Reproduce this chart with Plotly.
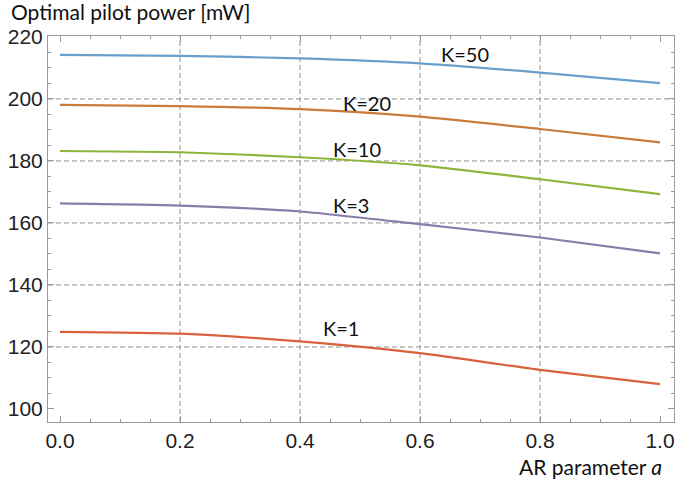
import plotly.graph_objects as go

# Data
a_vals = [0.0, 0.2, 0.4, 0.6, 0.8, 1.0]
k50 = [214.2, 213.9, 213.1, 211.5, 208.5, 205.1]
k20 = [198.1, 197.7, 196.7, 194.3, 190.3, 186.0]
k10 = [183.2, 182.8, 181.2, 178.6, 174.1, 169.3]
k3 = [166.3, 165.6, 163.7, 159.6, 155.3, 150.2]
k1 = [124.9, 124.3, 121.8, 118.0, 112.6, 108.0]

series_names = ["K=50", "K=20", "K=10", "K=3", "K=1"]
series_vals = [k50, k20, k10, k3, k1]
colors = ["#6A9FCC", "#C97B3B", "#8DB53C", "#8B7BA8", "#D8623E"]

# label anchor positions (data coords)
label_x = [0.675, 0.512, 0.495, 0.485, 0.468]
label_y = [214.4, 198.6, 184.0, 165.9, 126.2]

x_ticks = [0.0, 0.2, 0.4, 0.6, 0.8, 1.0]
y_ticks = [100, 120, 140, 160, 180, 200, 220]
x_grid = [0.2, 0.4, 0.6, 0.8]
y_grid = [120, 140, 160, 180, 200]

fig = go.Figure()
for name, vals, col in zip(series_names, series_vals, colors):
    fig.add_trace(go.Scatter(x=a_vals, y=vals, mode="lines", name=name,
                             line=dict(color=col, width=2.2, shape="spline", smoothing=0.6),
                             showlegend=False, hoverinfo="skip"))

grid_line = dict(color="#8f8f8f", width=1, dash="5px,3px")
shapes = []
for gx in x_grid:
    shapes.append(dict(type="line", xref="x", yref="paper", x0=gx, x1=gx, y0=0, y1=1,
                       line=grid_line, layer="below"))
for gy in y_grid:
    shapes.append(dict(type="line", xref="paper", yref="y", x0=0, x1=1, y0=gy, y1=gy,
                       line=grid_line, layer="below"))

annotations = []
for name, lx, ly in zip(series_names, label_x, label_y):
    annotations.append(dict(x=lx, y=ly, xref="x", yref="y", text=name, showarrow=False,
                            font=dict(family="Lato", size=20, color="#111111"),
                            xanchor="center", yanchor="middle"))

annotations.append(dict(x=-39/626, y=1 + 10/386, xref="paper", yref="paper",
                        text="Optimal pilot power [mW]", showarrow=False,
                        font=dict(family="Lato", size=21, color="#111111"),
                        xanchor="left", yanchor="bottom"))
annotations.append(dict(x=1 - 10/626, y=-30/386, xref="paper", yref="paper",
                        text="AR parameter <i>a</i>", showarrow=False,
                        font=dict(family="Lato", size=21, color="#111111"),
                        xanchor="right", yanchor="top"))

axis_common = dict(showline=True, linecolor="#9a9a9a", linewidth=1, mirror="ticks",
                   ticks="inside", ticklen=6, tickcolor="#9a9a9a", tickwidth=1,
                   showgrid=False, zeroline=False,
                   tickfont=dict(family="Liberation Sans", size=21, color="#222222"))

fig.update_layout(
    width=676, height=483,
    margin=dict(l=48, r=2, t=36, b=61),
    paper_bgcolor="white", plot_bgcolor="white",
    xaxis=dict(range=[-0.02, 1.0233], tickvals=x_ticks, tickformat=".1f",
               minor=dict(dtick=0.05, tick0=0, ticks="inside", ticklen=3, tickcolor="#9a9a9a"),
               **axis_common),
    yaxis=dict(range=[95.8, 220.3], tickvals=y_ticks,
               minor=dict(dtick=5, tick0=0, ticks="inside", ticklen=3, tickcolor="#9a9a9a"),
               **axis_common),
    shapes=shapes,
    annotations=annotations,
)

fig.write_html("out.html", config={"displayModeBar": False},
               post_script="document.body.style.margin='0px';")
